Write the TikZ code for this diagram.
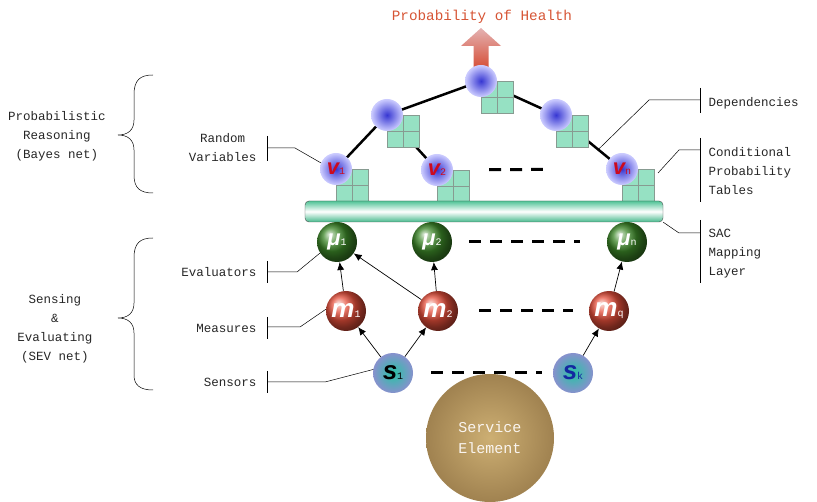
\documentclass[tikz,border=0pt]{standalone}
\usepackage{fontspec}
\setmainfont{Liberation Mono}
\newfontfamily\symfont{Liberation Sans}
\usetikzlibrary{positioning, arrows.meta, calc, backgrounds}

\definecolor{titlered}{RGB}{214,84,52}
\definecolor{arrowtop}{RGB}{228,178,178}
\definecolor{arrowbot}{RGB}{212,66,40}
\definecolor{vblue}{RGB}{55,55,210}
\definecolor{vlav}{RGB}{205,205,255}
\definecolor{vred}{RGB}{205,10,30}
\definecolor{cptfill}{RGB}{150,225,195}
\definecolor{cptedge}{RGB}{135,155,145}
\definecolor{bartop}{RGB}{80,195,150}
\definecolor{barbot}{RGB}{70,185,140}
\definecolor{evgreen}{RGB}{60,135,40}
\definecolor{mred}{RGB}{228,78,58}
\definecolor{steal}{RGB}{40,195,165}
\definecolor{slav}{RGB}{135,145,205}
\definecolor{skblue}{RGB}{20,40,160}
\definecolor{svcin}{RGB}{205,175,115}
\definecolor{svcout}{RGB}{160,130,80}

\newcommand{\bsym}[3]{{\symfont\bfseries\itshape\fontsize{#1}{#1}\selectfont #2}{\fontsize{10}{10}\selectfont #3}}

\begin{document}
\begin{tikzpicture}[x=1pt, y=-1pt, >=Latex, rv/.style={circle, minimum size=32pt, inner sep=0pt, shade, inner color=vblue, outer color=vlav, text=vred}, evalball/.style={circle, minimum size=40pt, inner sep=0pt, ball color=evgreen, text=white}, measball/.style={circle, minimum size=40pt, inner sep=0pt, ball color=mred, text=white}, sensball/.style={circle, minimum size=40pt, inner sep=0pt, shade, inner color=steal, outer color=slav}, lbl/.style={font=\fontsize{12.5}{19}\selectfont, text=black!85, align=center}, dep/.style={line width=2.5pt}, ellip/.style={line width=3pt, dash pattern=on 12pt off 9pt}, feed/.style={-{Latex[length=8pt,width=7pt]}, line width=0.7pt}, leader/.style={line width=0.5pt}, cpt/.style={draw=cptedge, fill=cptfill, line width=0.8pt}]
\useasboundingbox (0,0) rectangle (817,502);
% Bayes net
\node[rv] (top) at (481,81) {};
\node[rv] (midL) at (387,115) {};
\node[rv] (midR) at (556,115) {};
\node[rv] (v1) at (336,169) {\bsym{22}{v}{1}};
\node[rv] (v2) at (437,170) {\bsym{22}{v}{2}};
\node[rv] (vn) at (622,169) {\bsym{22}{v}{n}};
\node[font=\fontsize{14.3}{16}\selectfont, text=titlered] (health) at (482,17) {Probability of Health};
% SAC mapping layer
\node[draw=black!70, rounded corners=4pt, minimum width=358pt, minimum height=21pt, inner sep=0pt, top color=bartop, bottom color=barbot, middle color=white] (sac) at (484,211.5) {};
% SEV net
\node[evalball] (mu1) at (337,242) {\bsym{22}{μ}{1}};
\node[evalball] (mu2) at (432,242) {\bsym{22}{μ}{2}};
\node[evalball] (mun) at (627,242) {\bsym{22}{μ}{n}};
\node[measball] (m1) at (346,311) {\bsym{26}{m}{1}};
\node[measball] (m2) at (438,311) {\bsym{26}{m}{2}};
\node[measball] (mq) at (609,311) {\bsym{26}{m}{q}};
\node[sensball] (s1) at (393,373) {\bsym{26}{s}{1}};
\node[sensball, text=skblue] (sk) at (573,373) {\bsym{26}{s}{k}};
\node[circle, minimum size=128pt, inner sep=0pt, shade, inner color=svcin, outer color=svcout, align=center, font=\fontsize{15}{21}\selectfont, text=white!92!brown] (service) at (490,438) {Service\\Element};
\begin{scope}[on background layer]
\shade[top color=arrowtop, bottom color=arrowbot] ($(top)+(-7.5,-8)$) -- ($(top)+(-7.5,-35)$) -- ($(top)+(-20,-35)$) -- ($(top)+(0,-53)$) -- ($(top)+(20,-35)$) -- ($(top)+(7.5,-35)$) -- ($(top)+(7.5,-8)$) -- cycle;
\draw[dep] (top.center) -- (midL.center) -- (v1.center);
\draw[dep] (midL.center) -- (v2.center);
\draw[dep] (top.center) -- (midR.center) -- (vn.center);
\foreach \n in {top, midL, midR, v1, v2, vn} {
  \draw[cpt] (\n.center) rectangle ++(32,32);
  \draw[cpt] ($(\n.center)+(16,0)$) -- ++(0,32) ($(\n.center)+(0,16)$) -- ++(32,0);
}
\end{scope}
\draw[ellip, shorten <=36pt, shorten >=63pt] (v2) -- (vn);
\draw[ellip, shorten <=17pt, shorten >=27pt] (mu2) -- (mun);
\draw[ellip, shorten <=21pt, shorten >=16pt] (m2) -- (mq);
\draw[ellip, shorten <=18pt, shorten >=11pt] (s1) -- (sk);
\draw[feed] (m1) -- (mu1);
\draw[feed] (m2) -- (mu1);
\draw[feed] (m2) -- (mu2);
\draw[feed] (mq) -- (mun);
\draw[feed] (s1) -- (m1);
\draw[feed] (s1) -- (m2);
\draw[feed] (sk) -- (mq);
% left side
\node[lbl] (bayesLbl) at (57,136) {Probabilistic\\Reasoning\\(Bayes net)};
\node[lbl] (sevLbl) at (55,329) {Sensing\\\&\\Evaluating\\(SEV net)};
\draw[leader] (153,75) .. controls (140,75) and (134,80) .. (134,95) -- (134,120) .. controls (134,130) and (128,135) .. (118,135) .. controls (128,135) and (134,140) .. (134,150) -- (134,175) .. controls (134,188) and (140,193) .. (153,193);
\draw[leader] (153,238) .. controls (140,238) and (134,243) .. (134,258) -- (134,303) .. controls (134,313) and (128,318) .. (118,318) .. controls (128,318) and (134,323) .. (134,333) -- (134,375) .. controls (134,385) and (140,390) .. (153,390);
\node[lbl, anchor=east] (rvLbl) at (260,148) {Random\\Variables};
\node[lbl, anchor=east] (evLbl) at (260,272) {Evaluators};
\node[lbl, anchor=east] (meLbl) at (260,328) {Measures};
\node[lbl, anchor=east] (seLbl) at (260,382) {Sensors};
\draw[leader] ($(rvLbl.east)+(7,-12)$) -- ++(0,25);
\draw[leader] ($(rvLbl.east)+(7,0)$) -- ++(28,0) -- (v1.158);
\draw[leader] ($(evLbl.east)+(7,-11)$) -- ++(0,22);
\draw[leader] ($(evLbl.east)+(7,0)$) -- ++(30,0) -- (mu1.213);
\draw[leader] ($(meLbl.east)+(7,-11)$) -- ++(0,22);
\draw[leader] ($(meLbl.east)+(7,-1)$) -- ++(33,0) -- (m1.175);
\draw[leader] ($(seLbl.east)+(7,-11)$) -- ++(0,22);
\draw[leader] ($(seLbl.east)+(7,0)$) -- ++(58,0) -- (s1.170);
% right side
\node[lbl, anchor=west, align=left] (depLbl) at (705,103) {Dependencies};
\node[lbl, anchor=west, align=left] (cptLbl) at (705,171) {Conditional\\Probability\\Tables};
\node[lbl, anchor=west, align=left] (sacLbl) at (705,254) {SAC\\Mapping\\Layer};
\draw[leader] ($(depLbl.west)+(-5,-15)$) -- ++(0,25);
\draw[leader] ($(depLbl.west)+(-5,-3)$) -- ++(-51,0) -- ($(midR)!0.64!(vn)$);
\draw[leader] ($(cptLbl.west)+(-5,-33)$) -- ++(0,64);
\draw[leader] ($(cptLbl.west)+(-5,-21)$) -- ++(-21,0) -- ($(vn)+(36,4)$);
\draw[leader] ($(sacLbl.west)+(-5,-34)$) -- ++(0,63);
\draw[leader] ($(sacLbl.west)+(-5,-21)$) -- ++(-21,0) -- (sac.south east);
\end{tikzpicture}
\end{document}
